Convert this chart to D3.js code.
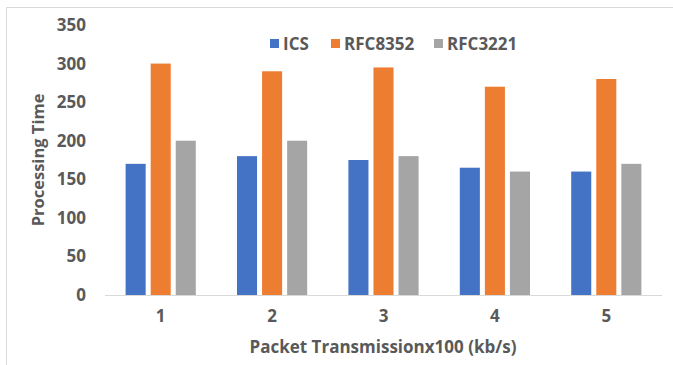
<!DOCTYPE html>
<html><head><meta charset="utf-8">
<script src="https://cdn.jsdelivr.net/npm/d3@7"></script>
<style>
html,body{margin:0;padding:0;background:#fff;}
svg{display:block;}
text{font-family:"Open Sans",sans-serif;font-weight:700;fill:#595959;}
</style></head>
<body>
<svg id="c" width="673" height="365"></svg>
<script>
const categories = ["1","2","3","4","5"];
const seriesNames = ["ICS","RFC8352","RFC3221"];
const icsValues = [170,180,175,165,160];
const rfc8352Values = [300,290,295,270,280];
const rfc3221Values = [200,200,180,160,170];
const yTicks = [0,50,100,150,200,250,300,350];
const colors = ["#4472C4","#ED7D31","#A5A5A5"];

const seriesValues = [icsValues, rfc8352Values, rfc3221Values];
const svg = d3.select("#c");

// frame
svg.append("path").attr("d","M6.5,365 V7.5 H673").attr("fill","none").attr("stroke","#d9d9d9").attr("stroke-width",1);

const x0 = d3.scaleBand().domain(categories).range([105,662]).paddingInner(0.37).paddingOuter(0.185);
const x1 = d3.scaleBand().domain(seriesNames).range([0,x0.bandwidth()]).paddingInner(0.2);
const y = d3.scaleLinear().domain([0,350]).range([295,25]);

// bars
seriesNames.forEach((s,si)=>{
  svg.append("g").selectAll("rect").data(categories).join("rect")
    .attr("x",c=>x0(c)+x1(s))
    .attr("y",(c,i)=>y(seriesValues[si][i]))
    .attr("width",x1.bandwidth())
    .attr("height",(c,i)=>y(0)-y(seriesValues[si][i]))
    .attr("fill",colors[si]);
});

// baseline
svg.append("line").attr("x1",105).attr("x2",662).attr("y1",y(0)+0.5).attr("y2",y(0)+0.5).attr("stroke","#d9d9d9").attr("stroke-width",1);

// y axis
const ya = d3.axisLeft(y).tickValues(yTicks).tickSize(0).tickPadding(0);
const yg = svg.append("g").attr("transform","translate(86,0)").call(ya);
yg.select(".domain").remove();
yg.selectAll("text").style("font-size","17px").style("font-family","'Open Sans',sans-serif").style("font-weight","700").attr("fill","#595959");

// x axis
const xa = d3.axisBottom(x0).tickSize(0).tickPadding(0);
const xg = svg.append("g").attr("transform","translate(0,310)").call(xa);
xg.select(".domain").remove();
xg.selectAll("text").style("font-size","17px").style("font-family","'Open Sans',sans-serif").style("font-weight","700").attr("fill","#595959");

// titles
svg.append("text").attr("x",383).attr("y",353).attr("text-anchor","middle").style("font-size","17px").text("Packet Transmissionx100 (kb/s)");
svg.append("text").attr("transform","translate(44,160) rotate(-90)").attr("text-anchor","middle").style("font-size","16.5px").text("Processing Time");

// legend
const legendX = [270,331,434];
const lg = svg.append("g");
seriesNames.forEach((s,i)=>{
  lg.append("rect").attr("x",legendX[i]).attr("y",39).attr("width",9).attr("height",9).attr("fill",colors[i]);
  lg.append("text").attr("x",legendX[i]+13).attr("y",49.5).style("font-size","17px").text(s);
});
</script>
</body></html>
